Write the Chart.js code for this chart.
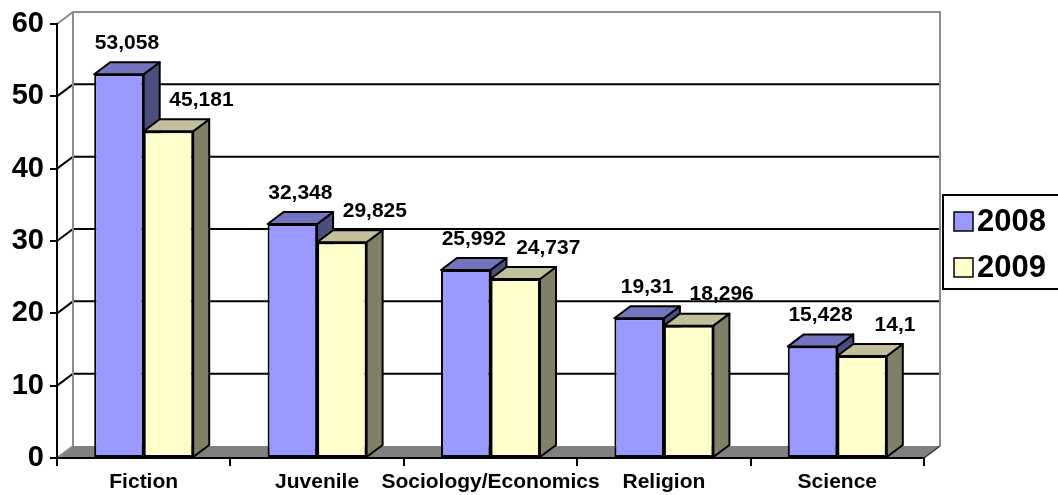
<!DOCTYPE html>
<html>
<head>
<meta charset="utf-8">
<script src="https://cdn.jsdelivr.net/npm/chart.js@4.4.1/dist/chart.umd.min.js"></script>
<style>
  html, body { margin: 0; padding: 0; background: #fff; overflow: hidden; }
</style>
</head>
<body>
<canvas id="bookChart" width="1058" height="495"></canvas>
<script>
// Titles per subject, 2008 vs 2009 (thousands)
const categories = ['Fiction', 'Juvenile', 'Sociology/Economics', 'Religion', 'Science'];
const seriesNames = ['2008', '2009'];
const values2008 = [53.058, 32.348, 25.992, 19.31, 15.428];
const values2009 = [45.181, 29.825, 24.737, 18.296, 14.1];
const yMax = 60;
const yStep = 10;

const FONT = '"Liberation Sans", Arial, sans-serif';
const DEPTH_X = 16;    // 3D depth of walls and columns
const DEPTH_Y = -12;
const FRONT = ['#9999FF', '#FFFFCC'];
const TOP = ['#7373BF', '#C0C09A'];
const SIDE = ['#4D4D80', '#808066'];
const LABEL_SHIFT = [8, 33];

const fmt = v => String(v).replace('.', ',');

function poly(ctx, pts) {
  ctx.beginPath();
  ctx.moveTo(pts[0][0], pts[0][1]);
  for (let i = 1; i < pts.length; i++) ctx.lineTo(pts[i][0], pts[i][1]);
  ctx.closePath();
}

// back wall, side wall, floor and gridlines behind everything
const wallPlugin = {
  id: 'walls',
  beforeDraw(chart) {
    const { ctx, chartArea: a, scales: { y } } = chart;
    const L = a.left, R = a.right, B = a.bottom, T = y.getPixelForValue(yMax);
    ctx.save();
    ctx.fillStyle = '#808080';
    poly(ctx, [[L, B], [R, B], [R + DEPTH_X, B + DEPTH_Y], [L + DEPTH_X, B + DEPTH_Y]]);
    ctx.fill();
    ctx.strokeStyle = '#333';
    ctx.lineWidth = 1.5;
    ctx.beginPath();
    ctx.moveTo(R, B); ctx.lineTo(R + DEPTH_X, B + DEPTH_Y);
    ctx.stroke();

    ctx.strokeStyle = '#000';
    ctx.lineWidth = 2;
    y.ticks.forEach(t => {
      if (t.value === 0 || t.value === yMax) return;
      const py = y.getPixelForValue(t.value);
      ctx.beginPath();
      ctx.moveTo(L, py);
      ctx.lineTo(L + DEPTH_X, py + DEPTH_Y);
      ctx.lineTo(R + DEPTH_X, py + DEPTH_Y);
      ctx.stroke();
    });

    ctx.strokeStyle = '#8C8C8C';
    ctx.beginPath();
    ctx.moveTo(L, T);
    ctx.lineTo(L + DEPTH_X, T + DEPTH_Y);
    ctx.lineTo(R + DEPTH_X, T + DEPTH_Y);
    ctx.lineTo(R + DEPTH_X, B + DEPTH_Y);
    ctx.moveTo(L + DEPTH_X, T + DEPTH_Y);
    ctx.lineTo(L + DEPTH_X, B + DEPTH_Y);
    ctx.moveTo(L, B);
    ctx.lineTo(L + DEPTH_X, B + DEPTH_Y);
    ctx.stroke();
    ctx.restore();
  },
  // side and top faces; Chart.js draws the front faces afterwards
  beforeDatasetsDraw(chart) {
    const ctx = chart.ctx;
    ctx.save();
    ctx.strokeStyle = '#000';
    ctx.lineWidth = 2;
    ctx.lineJoin = 'round';
    categories.forEach((c, i) => {
      chart.data.datasets.forEach((ds, d) => {
        const p = chart.getDatasetMeta(d).data[i].getProps(['x', 'y', 'base', 'width'], true);
        const l = p.x - p.width / 2, r = p.x + p.width / 2;
        ctx.fillStyle = SIDE[d];
        poly(ctx, [[r, p.y], [r + DEPTH_X, p.y + DEPTH_Y], [r + DEPTH_X, p.base + DEPTH_Y], [r, p.base]]);
        ctx.fill(); ctx.stroke();
        ctx.fillStyle = TOP[d];
        poly(ctx, [[l, p.y], [l + DEPTH_X, p.y + DEPTH_Y], [r + DEPTH_X, p.y + DEPTH_Y], [r, p.y]]);
        ctx.fill(); ctx.stroke();
      });
    });
    ctx.restore();
  },
  afterDatasetsDraw(chart) {
    const ctx = chart.ctx;
    ctx.save();
    ctx.fillStyle = '#000';
    ctx.font = 'bold 21px ' + FONT;
    ctx.textAlign = 'center';
    ctx.textBaseline = 'middle';
    chart.data.datasets.forEach((ds, d) => {
      chart.getDatasetMeta(d).data.forEach((bar, i) => {
        const p = bar.getProps(['x', 'y'], true);
        ctx.fillText(fmt(ds.data[i]), p.x + LABEL_SHIFT[d], p.y - 31);
      });
    });
    ctx.restore();
  },
  afterDraw(chart) {
    const { ctx, chartArea: a } = chart;
    const lx = a.right + DEPTH_X + 3, ly = 195;
    ctx.save();
    ctx.fillStyle = '#fff';
    ctx.fillRect(lx, ly, 140, 94);
    ctx.strokeStyle = '#000';
    ctx.lineWidth = 2;
    ctx.strokeRect(lx, ly, 140, 94);
    ctx.font = 'bold 31px ' + FONT;
    ctx.textBaseline = 'middle';
    chart.data.datasets.forEach((ds, d) => {
      const cy = ly + 26 + d * 46;
      ctx.fillStyle = FRONT[d];
      ctx.fillRect(lx + 11, cy - 9, 19, 19);
      ctx.lineWidth = 1.5;
      ctx.strokeRect(lx + 11, cy - 9, 19, 19);
      ctx.fillStyle = '#000';
      ctx.fillText(ds.label, lx + 34, cy + 1);
    });
    ctx.restore();
  }
};

new Chart(document.getElementById('bookChart'), {
  type: 'bar',
  data: {
    labels: categories,
    datasets: [
      { label: seriesNames[0], data: values2008, backgroundColor: FRONT[0] },
      { label: seriesNames[1], data: values2009, backgroundColor: FRONT[1] }
    ]
  },
  options: {
    responsive: false,
    animation: false,
    devicePixelRatio: 1,
    layout: { padding: { top: 24, right: 134, bottom: 0, left: 0 } },
    datasets: {
      bar: {
        categoryPercentage: 0.571,
        barPercentage: 1,
        borderColor: '#000',
        borderWidth: 2,
        borderSkipped: false
      }
    },
    plugins: { legend: { display: false }, tooltip: { enabled: false } },
    scales: {
      x: {
        ticks: { color: '#000', font: { family: FONT, size: 21, weight: 'bold' }, padding: 4, maxRotation: 0, autoSkip: false },
        grid: { drawOnChartArea: false, offset: true, tickLength: 8, color: '#000', lineWidth: 2 },
        border: { display: true, color: '#000', width: 2 },
        afterFit(s) { s.height = 37; }
      },
      y: {
        min: 0,
        max: yMax,
        ticks: { stepSize: yStep, color: '#000', font: { family: FONT, size: 29, weight: 'bold' }, padding: 6 },
        grid: { drawOnChartArea: false, tickLength: 7, color: '#000', lineWidth: 2 },
        border: { display: true, color: '#000', width: 2 },
        afterFit(s) { s.width = 57; }
      }
    }
  },
  plugins: [wallPlugin]
});
</script>
</body>
</html>
